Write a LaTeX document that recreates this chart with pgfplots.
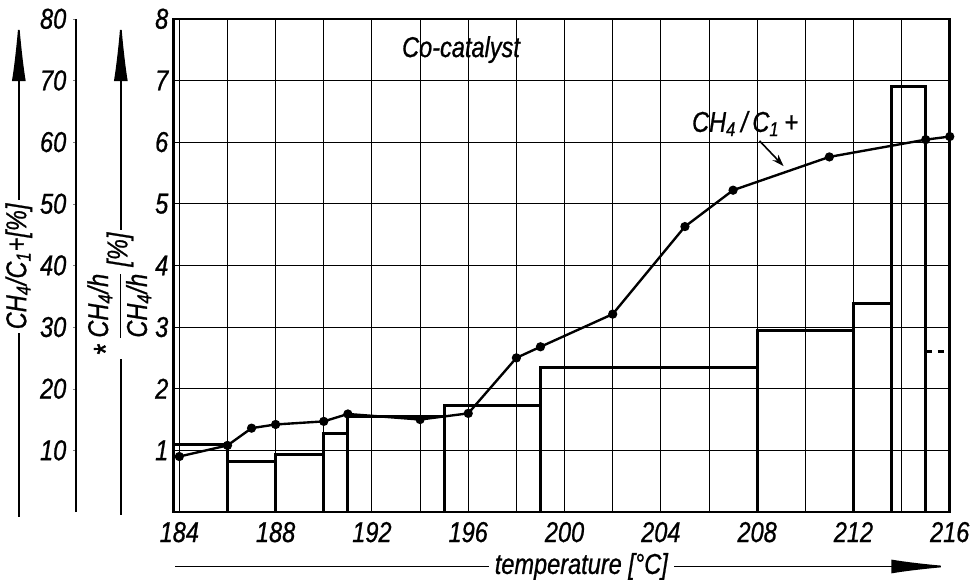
\documentclass[border=0pt]{standalone}
\usepackage{pgfplots}
\pgfplotsset{compat=1.18}
\usepackage{fontspec}
\setmainfont{Liberation Sans}[FakeStretch=0.82, FakeBold=0.8]
\usetikzlibrary{arrows.meta}
\newcommand{\lbl}{\fontsize{14.5}{17}\selectfont\itshape}
\begin{document}
\begin{tikzpicture}[font=\lbl]
\path (-87.5pt,-31.5pt) rectangle (400.5pt,258.5pt);
% main axis
\begin{axis}[
  at={(0pt,0pt)}, anchor=south west,
  scale only axis, width=392pt, height=249pt,
  xmin=183.75, xmax=216, ymin=0, ymax=8,
  xtick={184,188,...,216}, minor xtick={186,190,...,214},
  ytick={1,2,...,8},
  grid=both,
  grid style={black, line width=0.45pt},
  minor grid style={black, line width=0.45pt},
  major tick length=0pt, minor tick length=0pt,
  axis line style={line width=1.3pt},
  tick label style={font=\lbl},
  xticklabel style={yshift=-1.5pt},
  /pgf/number format/assume math mode=true,
  /pgf/number format/1000 sep={},
  yticklabel style={xshift=1pt},
]
\addplot[ybar interval, draw=black, fill=none, line width=1.5pt] coordinates {
  (183.75,1.10) (186,0.82) (188,0.93) (190,1.27) (191,1.55) (195,1.72)
  (199,2.35) (208,2.95) (212,3.39) (213.6,6.90) (215,6.90)};
\addplot[black, dashed, line width=1.5pt] coordinates {(215,2.61) (216,2.61)};
\addplot[black, line width=1.2pt, mark=*, mark size=1.7pt] coordinates {
  (184,0.90) (186,1.08) (187,1.36) (188,1.42) (190,1.47) (191,1.59)
  (194,1.50) (196,1.60) (198,2.50) (199,2.68) (202,3.21) (205,4.63)
  (207,5.22) (211,5.76) (215,6.04) (216,6.09)};
\node at (axis cs:195.7,7.5) {Co-catalyst};
\node at (axis cs:207.5,6.30) {CH\textsubscript{4}\,/\,C\textsubscript{1}\,+};
\draw[line width=0.8pt, -{Stealth[length=6pt,width=4pt]}] (axis cs:208.1,6.02) -- (axis cs:209.1,5.61);
\end{axis}
% secondary scale 0..80
\begin{axis}[
  at={(-49pt,0pt)}, anchor=south west,
  scale only axis, width=1pt, height=249pt,
  xmin=0, xmax=1, ymin=0, ymax=80,
  ytick={10,20,...,80},
  axis x line=none, axis y line*=left,
  y axis line style={line width=0.9pt},
  tick align=outside, major tick length=1.5pt,
  tick label style={font=\lbl},
  /pgf/number format/assume math mode=true,
]
\end{axis}
% left labels with arrows
\draw[line width=0.9pt, -{Latex[length=32pt,width=7pt]}] (-78pt,-2.5pt) -- (-78pt,249.5pt);
\node[fill=white, rotate=90, inner sep=2pt] at (-78pt,124pt) {CH\textsubscript{4}/C\textsubscript{1}+[\%]};
\draw[line width=0.9pt, -{Latex[length=32pt,width=7pt]}] (-26.5pt,-1.5pt) -- (-26.5pt,249.5pt);
\node[fill=white, rotate=90, anchor=base, inner sep=1.5pt] at (-23.2pt,110pt)
  {\raisebox{5pt}{\LARGE *}\,$\displaystyle\frac{\mbox{\lbl CH\textsubscript{4}/h}}{\mbox{\lbl CH\textsubscript{4}/h}}$\,[\%]};
% bottom label with arrow
\draw[line width=0.9pt, -{Latex[length=31pt,width=7pt]}] (1pt,-27.5pt) -- (393.5pt,-27.5pt);
\node[fill=white, inner sep=3pt] at (206pt,-27.5pt) {temperature [°C]};
\end{tikzpicture}
\end{document}
